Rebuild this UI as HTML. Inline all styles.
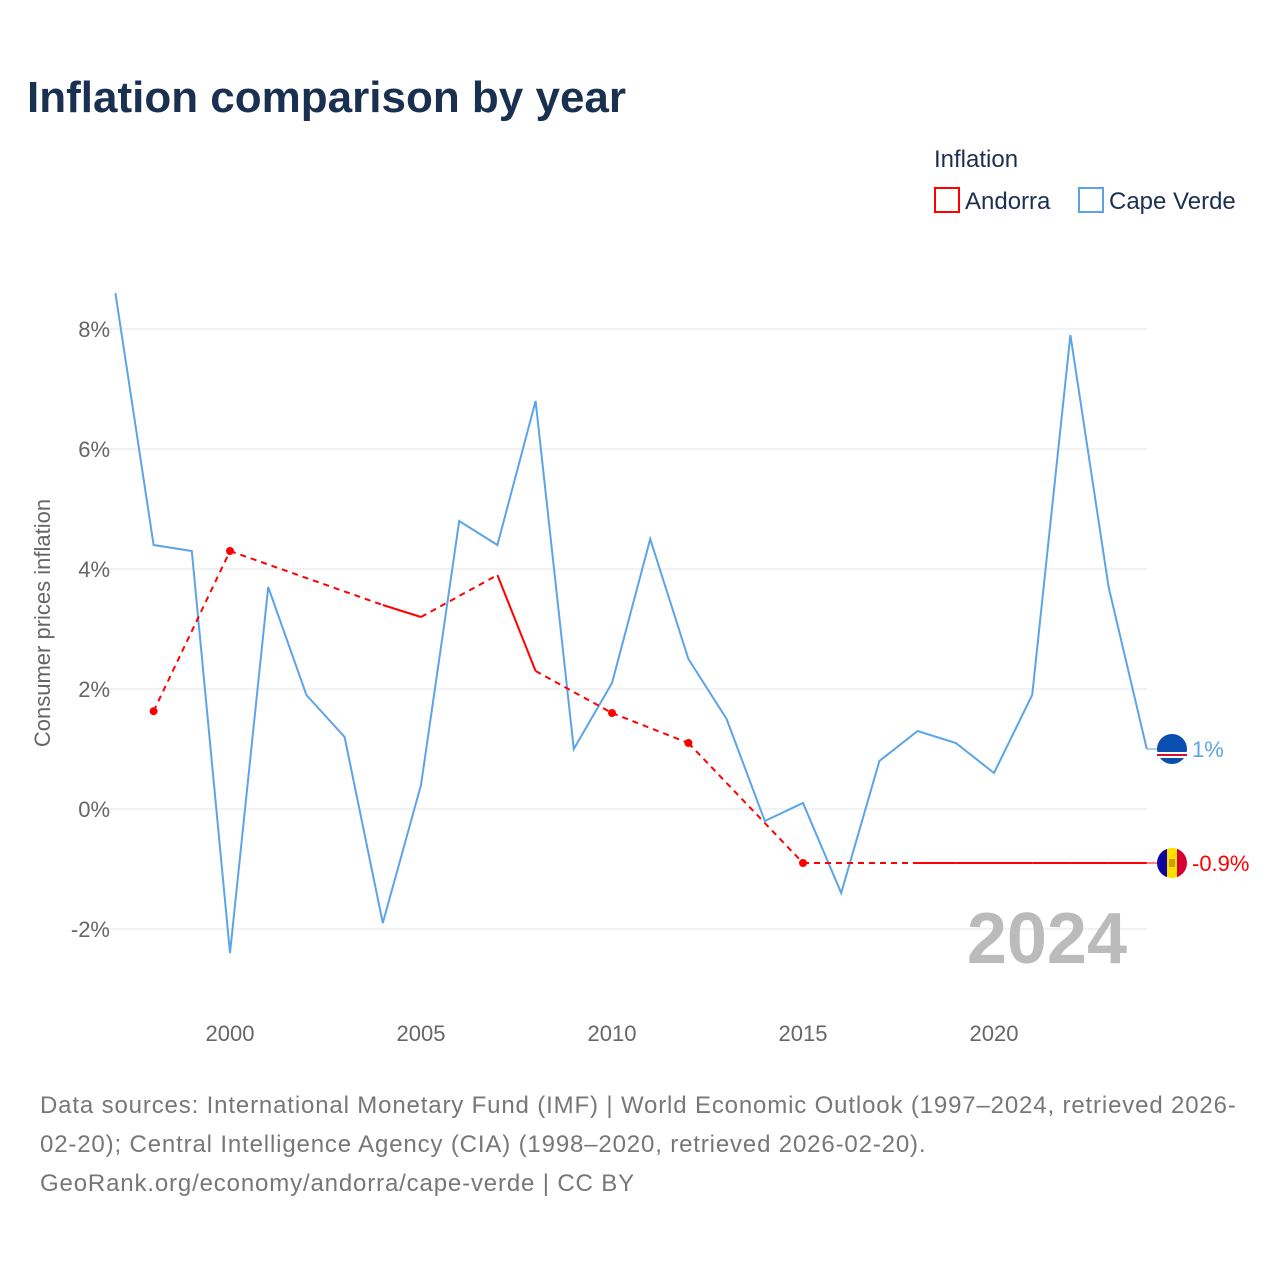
<!DOCTYPE html>
<html><head><meta charset="utf-8"><style>
body{margin:0;background:#fff;font-family:"Liberation Sans",sans-serif}
svg text{font-family:"Liberation Sans",sans-serif}
</style></head><body>
<svg width="1280" height="1280" viewBox="0 0 1280 1280">
<text x="27" y="112" font-size="44" font-weight="bold" fill="#1a3050">Inflation comparison by year</text>
<text x="934" y="167" font-size="24" fill="#1a3050">Inflation</text>
<g><rect x="935" y="188" width="24" height="24" fill="none" stroke="#ff0000" stroke-width="2"/><text x="965" y="209" font-size="24" fill="#1a3050">Andorra</text></g>
<g><rect x="1079" y="188" width="24" height="24" fill="none" stroke="#5ba4e8" stroke-width="2"/><text x="1109" y="209" font-size="24" fill="#1a3050">Cape Verde</text></g>
<g id="grid"></g><g id="xt"></g><g id="yt"></g>
<text x="1127" y="963" font-size="72" font-weight="bold" fill="#bbbbbb" text-anchor="end">2024</text>
<text transform="translate(50,623) rotate(-90)" font-size="22" fill="#666" text-anchor="middle">Consumer prices inflation</text>
<g id="series"></g>
<text font-size="24" fill="#777" letter-spacing="0.85"><tspan x="40" y="1113">Data sources: International Monetary Fund (IMF) | World Economic Outlook (1997–2024, retrieved 2026-</tspan><tspan x="40" y="1152">02-20); Central Intelligence Agency (CIA) (1998–2020, retrieved 2026-02-20).</tspan><tspan x="40" y="1191">GeoRank.org/economy/andorra/cape-verde | CC BY</tspan></text>
</svg>
<script>
const years=[1997,1998,1999,2000,2001,2002,2003,2004,2005,2006,2007,2008,2009,2010,2011,2012,2013,2014,2015,2016,2017,2018,2019,2020,2021,2022,2023,2024];
const capeVerde=[8.6,4.4,4.3,-2.4,3.7,1.9,1.2,-1.9,0.4,4.8,4.4,6.8,1.0,2.1,4.5,2.5,1.5,-0.2,0.1,-1.4,0.8,1.3,1.1,0.6,1.9,7.9,3.7,1.0];
const andorra=[null,1.63,null,4.3,null,null,null,3.4,3.2,null,3.9,2.3,null,1.6,null,1.1,null,null,-0.9,null,null,-0.9,-0.9,-0.9,-0.9,-0.9,-0.9,-0.9];
const yTicks=[-2,0,2,4,6,8];
const xTicks=[2000,2005,2010,2015,2020];
const NS="http://www.w3.org/2000/svg";
const X=y=>115.4+(y-1997)*38.2;
const Y=v=>809-v*60;
function mk(t,a,p){const e=document.createElementNS(NS,t);for(const k in a)e.setAttribute(k,a[k]);p.appendChild(e);return e;}
const grid=document.getElementById('grid'),yt=document.getElementById('yt'),xt=document.getElementById('xt'),S=document.getElementById('series');
yTicks.forEach(v=>{
 const l=mk('line',{x1:110,x2:1147,y1:Y(v),y2:Y(v),stroke:'#e6e6e6','stroke-width':1},grid);
 
 
 const t=mk('text',{x:110,y:Y(v)+8,'font-size':22,fill:'#666','text-anchor':'end'},yt);t.textContent=v+'%';
 
 
});
xTicks.forEach(v=>{
 const t=mk('text',{x:X(v),y:1041,'font-size':22,fill:'#666','text-anchor':'middle'},xt);t.textContent=v;
 
 
});
const cv=mk('polyline',{points:years.map((y,i)=>X(y)+','+Y(capeVerde[i])).join(' '),fill:'none',stroke:'#5ba4e8','stroke-width':2},S);


const pts=[];years.forEach((y,i)=>{if(andorra[i]!==null)pts.push([y,andorra[i]]);});
for(let k=0;k<pts.length-1;k++){
 const a=pts[k],b=pts[k+1],consec=b[0]-a[0]===1;
 const s=mk('line',{x1:X(a[0]),y1:Y(a[1]),x2:X(b[0]),y2:Y(b[1]),stroke:'#ff0000','stroke-width':2},S);
 if(!consec)s.setAttribute('stroke-dasharray','6,5');
 
 
}
pts.forEach((p,k)=>{
 const prev=k>0&&p[0]-pts[k-1][0]===1,next=k<pts.length-1&&pts[k+1][0]-p[0]===1;
 if(!prev&&!next){const c=mk('circle',{cx:X(p[0]),cy:Y(p[1]),r:4,fill:'#ff0000'},S);
 
 }
});
const lastCV=capeVerde[capeVerde.length-1],lastAD=andorra[andorra.length-1];
mk('line',{x1:X(2024),x2:1160,y1:Y(lastCV),y2:Y(lastCV),stroke:'#5ba4e8','stroke-width':1},S);
const g1=mk('g',{},S);


mk('circle',{cx:1172,cy:Y(lastCV),r:15,fill:'#0a4fb0'},g1);
mk('rect',{x:1157,y:Y(lastCV)+3,width:30,height:6,fill:'#fff'},g1);
mk('rect',{x:1157,y:Y(lastCV)+5,width:30,height:2,fill:'#d21034'},g1);
const t1=mk('text',{x:1192,y:Y(lastCV)+8,'font-size':22,fill:'#5ba4e8'},S);t1.textContent=lastCV+'%';


mk('line',{x1:X(2024),x2:1160,y1:Y(lastAD),y2:Y(lastAD),stroke:'#ff0000','stroke-width':1},S);
const g2=mk('g',{},S);


const cy=Y(lastAD);
mk('clipPath',{id:'fc'},g2);document.getElementById('fc').appendChild(mk('circle',{cx:1172,cy:cy,r:15},document.createElementNS(NS,'g')));
mk('rect',{x:1157,y:cy-15,width:10,height:30,fill:'#10069f','clip-path':'url(#fc)'},g2);
mk('rect',{x:1167,y:cy-15,width:10,height:30,fill:'#fedf00','clip-path':'url(#fc)'},g2);
mk('rect',{x:1177,y:cy-15,width:10,height:30,fill:'#d50032','clip-path':'url(#fc)'},g2);
mk('rect',{x:1169,y:cy-4,width:6,height:8,fill:'#c7a000'},g2);
const t2=mk('text',{x:1192,y:cy+8,'font-size':22,fill:'#ff0000'},S);t2.textContent=lastAD+'%';


</script>
</body></html>
